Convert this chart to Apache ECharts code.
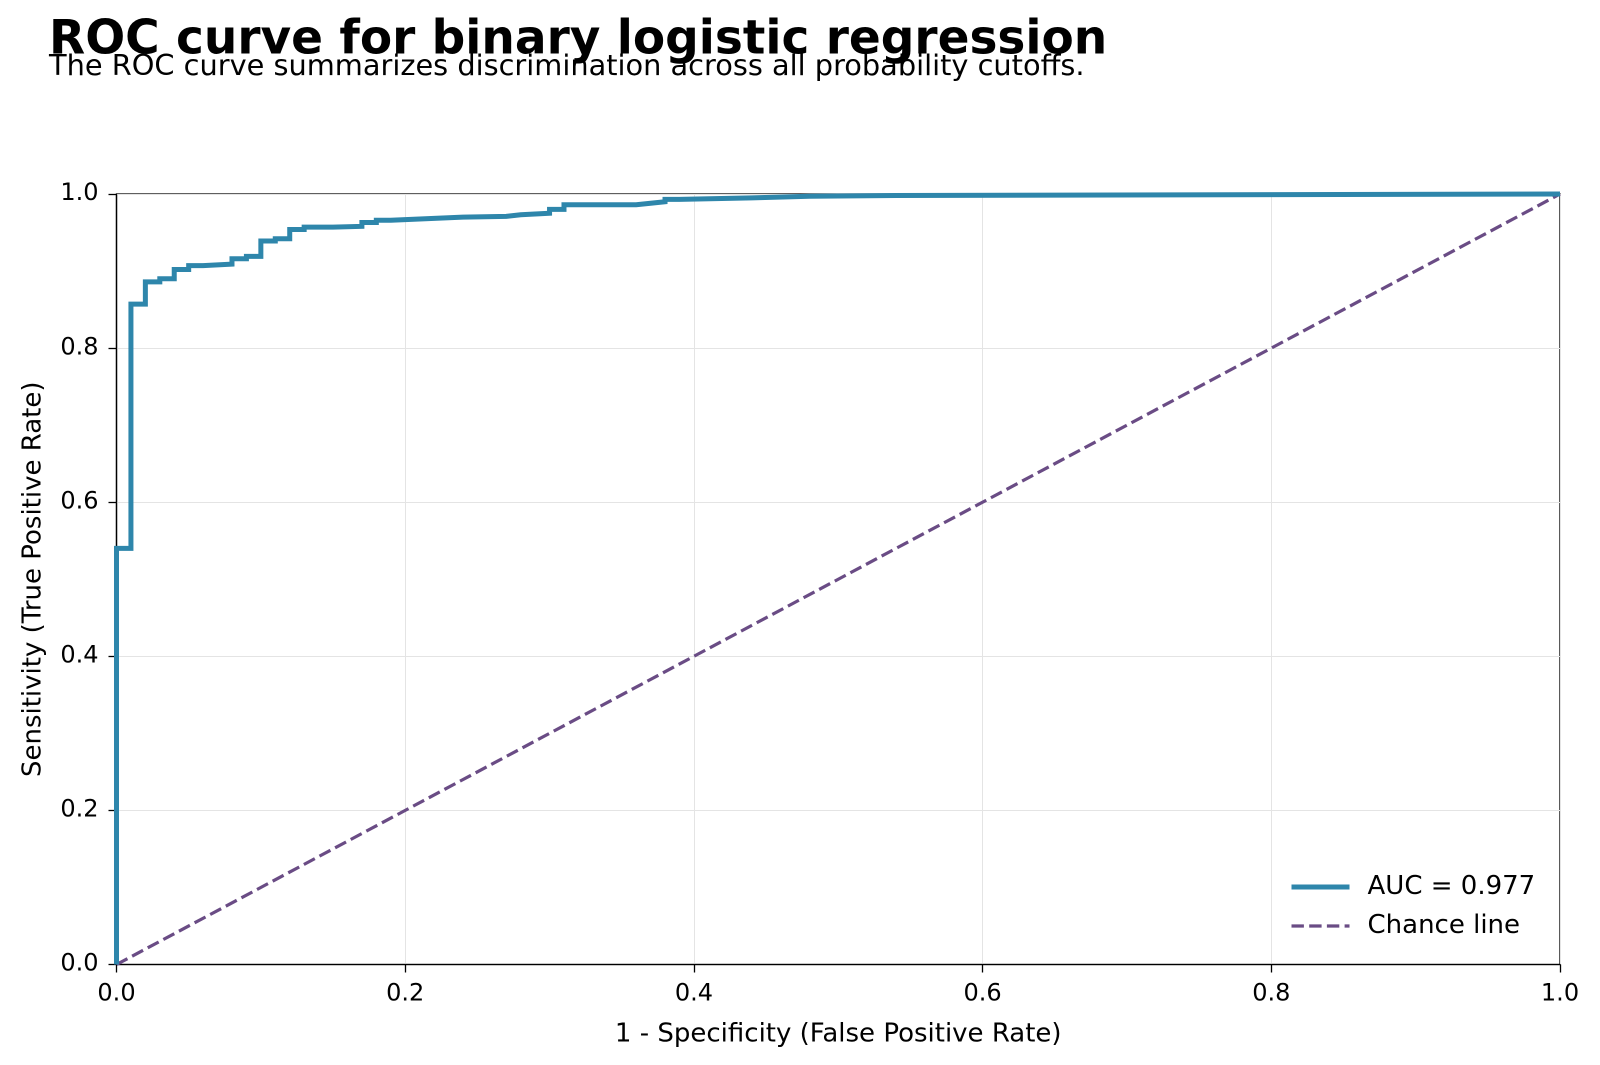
<!DOCTYPE html>
<html>
<head>
<meta charset="utf-8">
<script src="https://cdn.jsdelivr.net/npm/echarts@6/dist/echarts.min.js"></script>
<style>
  html, body { margin: 0; padding: 0; background: #fff; }
  #chart { width: 1600px; height: 1065px; }
</style>
</head>
<body>
<div id="chart"></div>
<script>
// ---- Data ----
const titleText = 'ROC curve for binary logistic regression';
const subtitleText = 'The ROC curve summarizes discrimination across all probability cutoffs.';
const rocLabel = 'AUC = 0.977';
const chanceLabel = 'Chance line';
const xAxisName = '1 - Specificity (False Positive Rate)';
const yAxisName = 'Sensitivity (True Positive Rate)';

// ROC points (false positive rate, true positive rate), drawn as a step line
const fpr = [0.00, 0.00, 0.01, 0.02, 0.03, 0.04, 0.05, 0.06, 0.08, 0.09, 0.10, 0.11, 0.12, 0.13, 0.15, 0.17, 0.18, 0.19, 0.21, 0.24, 0.27, 0.28, 0.30, 0.31, 0.36, 0.37, 0.38, 0.39, 0.44, 0.48, 0.54, 1.00];
const tpr = [0.000, 0.540, 0.857, 0.886, 0.890, 0.902, 0.907, 0.909, 0.916, 0.919, 0.939, 0.942, 0.954, 0.957, 0.958, 0.963, 0.966, 0.9675, 0.970, 0.971, 0.973, 0.975, 0.980, 0.986, 0.988, 0.990, 0.993, 0.995, 0.997, 0.998, 1.000, 1.000];

// Chance diagonal
const chanceX = [0, 1];
const chanceY = [0, 1];

// Axis ticks
const axisMin = 0, axisMax = 1, axisStep = 0.2;

// Step path: horizontal to the next FPR at the previous TPR, then vertical up
const rocData = [[fpr[0], tpr[0]]];
for (let i = 1; i < fpr.length; i++) {
  rocData.push([fpr[i], tpr[i - 1]]);
  rocData.push([fpr[i], tpr[i]]);
}
const chanceData = chanceX.map((x, i) => [x, chanceY[i]]);

const FONT = 'DejaVu Sans';
const ROC_COLOR = '#2E86AB';
const CHANCE_COLOR = '#6A4C85';
const chart = echarts.init(document.getElementById('chart'), null, { renderer: 'canvas', devicePixelRatio: 2 });

const axisCommon = {
  type: 'value',
  min: axisMin,
  max: axisMax,
  interval: axisStep,
  nameLocation: 'middle',
  nameTextStyle: { fontFamily: FONT, fontSize: 26, color: '#000' },
  axisLine: { show: true, lineStyle: { color: '#000', width: 1.3 } },
  axisTick: { show: true, inside: false, length: 8, lineStyle: { color: '#000', width: 1.3 } },
  axisLabel: { fontFamily: FONT, fontSize: 24, color: '#000', formatter: v => v.toFixed(1) },
  splitLine: { show: true, lineStyle: { color: '#e4e4e4', width: 1 } }
};

chart.setOption({
  backgroundColor: '#fff',
  animation: false,
  title: [
    { text: titleText, left: 44, top: 13,
      textStyle: { fontFamily: FONT, fontSize: 47, fontWeight: 'bold', color: '#000' } },
    { text: subtitleText, left: 44, top: 48,
      textStyle: { fontFamily: FONT, fontSize: 28.8, fontWeight: 'normal', color: '#000' } }
  ],
  grid: {
    left: 116.5, right: 40, top: 194, bottom: 100.5,
    show: true, borderColor: '#000', borderWidth: 1.3, backgroundColor: 'transparent'
  },
  xAxis: Object.assign({}, axisCommon, {
    name: xAxisName, nameGap: 57,
    axisLabel: Object.assign({}, axisCommon.axisLabel, { margin: 18 })
  }),
  yAxis: Object.assign({}, axisCommon, {
    name: yAxisName, nameGap: 70,
    axisLabel: Object.assign({}, axisCommon.axisLabel, { margin: 18 })
  }),
  legend: {
    orient: 'vertical',
    left: 1284, top: 869,
    itemWidth: 58, itemHeight: 14, itemGap: 13,
    itemStyle: { opacity: 0, borderWidth: 0 },
    textStyle: { fontFamily: FONT, fontSize: 26, color: '#000', padding: [0, 0, 0, 13] },
    data: [
      { name: rocLabel, lineStyle: { color: ROC_COLOR, width: 5 }, itemStyle: { opacity: 0 } },
      { name: chanceLabel, lineStyle: { color: CHANCE_COLOR, width: 3.2, type: [12.4, 5.3] }, itemStyle: { opacity: 0 } }
    ]
  },
  series: [
    {
      name: rocLabel, type: 'line', data: rocData,
      symbol: 'none', clip: true, z: 3,
      lineStyle: { color: ROC_COLOR, width: 5, join: 'miter' },
      itemStyle: { color: ROC_COLOR }
    },
    {
      name: chanceLabel, type: 'line', data: chanceData,
      symbol: 'none', clip: true, z: 2,
      lineStyle: { color: CHANCE_COLOR, width: 3.2, type: [12.4, 5.3] },
      itemStyle: { color: CHANCE_COLOR }
    }
  ]
});
</script>
</body>
</html>
